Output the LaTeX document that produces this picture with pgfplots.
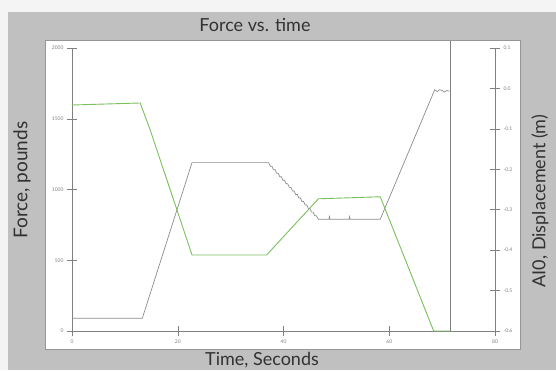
\documentclass[border=0pt]{standalone}
\usepackage{fontspec}
\setmainfont{Lato}
\usepackage{pgfplots}
\pgfplotsset{compat=1.18}
\definecolor{bgl}{RGB}{244,244,244}
\definecolor{panel}{RGB}{192,192,192}
\definecolor{boxgray}{RGB}{150,150,150}
\definecolor{axgray}{RGB}{128,128,128}
\definecolor{forcegray}{RGB}{140,140,145}
\definecolor{dispgreen}{RGB}{122,192,92}
\definecolor{txt}{RGB}{50,50,50}
\begin{document}
\begin{tikzpicture}
\useasboundingbox (0pt,0pt) rectangle (556pt,370pt);
\fill[bgl] (0pt,0pt) rectangle (556pt,370pt);
\fill[panel] (8pt,0pt) rectangle (556pt,358pt);
\filldraw[fill=white, draw=boxgray, line width=0.8pt] (45pt,21pt) rectangle (520pt,330pt);
\begin{axis}[
  at={(72pt,39pt)}, anchor=south west,
  scale only axis, width=423pt, height=283pt,
  xmin=0, xmax=80, ymin=0, ymax=2000,
  axis x line*=bottom, axis y line*=left,
  axis line style={axgray, line width=0.6pt},
  xtick={0,20,40,60,80}, ytick={0,500,1000,1500,2000},
  tick align=center, major tick length=10pt,
  tick style={axgray, line width=0.5pt},
  ticklabel style={font=\fontsize{5}{5}\selectfont, text=axgray},
  /pgf/number format/assume math mode=true,
  /pgf/number format/1000 sep={},
  clip=false,
]
\addplot[forcegray, line width=0.7pt] coordinates {
(0,90) (13.3,90) (22.7,1190) (36.9,1190)
(37.2,1190) (37.5,1165) (37.8,1165) (38.1,1140) (38.4,1140) (38.7,1115)
(39.0,1115) (39.3,1090) (39.6,1090) (39.9,1065) (40.2,1065) (40.5,1040)
(40.8,1040) (41.1,1015) (41.4,1015) (41.7,990) (42.0,990) (42.3,965)
(42.6,965) (42.9,940) (43.2,940) (43.5,915) (43.8,915) (44.1,890)
(44.4,890) (44.7,865) (45.0,865) (45.3,840) (45.6,840) (45.9,815)
(46.2,815) (46.6,790)
(48.6,790) (48.7,808) (48.8,790) (52.4,790) (52.5,808) (52.6,790) (58.3,790)
(68.6,1705) (69.1,1692) (69.5,1705) (70.0,1700) (70.4,1688) (70.9,1700) (71.4,1695)
};
\addplot[axgray, line width=1.1pt] coordinates {(71.6,0) (71.6,2049)};
\end{axis}
\begin{axis}[
  at={(72pt,39pt)}, anchor=south west,
  scale only axis, width=423pt, height=283pt,
  xmin=0, xmax=80, ymin=-0.6, ymax=0.1,
  axis x line=none, axis y line*=right,
  axis line style={axgray, line width=0.6pt},
  ytick={-0.6,-0.5,-0.4,-0.3,-0.2,-0.1,0,0.1},
  tick align=center, major tick length=10pt,
  tick style={axgray, line width=0.5pt},
  ticklabel style={font=\fontsize{5}{5}\selectfont, text=axgray},
  /pgf/number format/assume math mode=true,
  yticklabel style={/pgf/number format/.cd, fixed, fixed zerofill, precision=1},
]
\addplot[dispgreen, line width=0.9pt] coordinates {
(0,-0.041) (12.9,-0.036) (14.8,-0.103) (22.7,-0.412) (36.8,-0.412)
(46.6,-0.273) (58.3,-0.268) (68.4,-0.6) (71.6,-0.6)
};
\end{axis}
\node[anchor=base, text=txt, font=\fontsize{18}{18}\selectfont] at (255pt,338pt) {Force vs. time};
\node[anchor=base, text=txt, font=\fontsize{18}{18}\selectfont] at (262pt,5pt) {Time, Seconds};
\node[rotate=90, text=txt, font=\fontsize{19}{19}\selectfont] at (22pt,190pt) {Force, pounds};
\node[rotate=90, text=txt, font=\fontsize{18}{18}\selectfont] at (540pt,169pt) {AI0, Displacement (m)};
\end{tikzpicture}
\end{document}
